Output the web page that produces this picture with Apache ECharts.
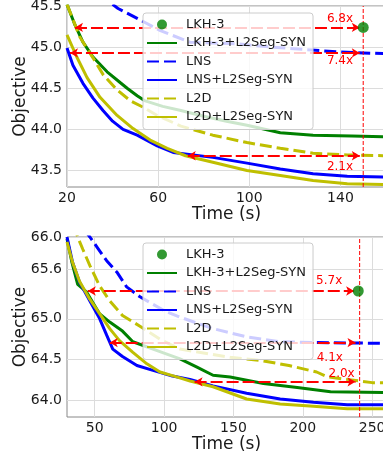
<!DOCTYPE html>
<html>
<head>
<meta charset="utf-8">
<script src="https://cdn.jsdelivr.net/npm/echarts@6/dist/echarts.min.js"></script>
<style>
  html, body { margin: 0; padding: 0; background: #fff; }
  #chart { width: 383px; height: 452px; }
</style>
</head>
<body>
<div id="chart"></div>
<script>
var names = ['LKH-3', 'LKH-3+L2Seg-SYN', 'LNS', 'LNS+L2Seg-SYN', 'L2D', 'L2D+L2Seg-SYN'];

// top panel: [time (s), objective]
var topLkh = [[150, 45.24]];
var topLkhSeg = [[20, 45.52], [23.5, 45.27], [27, 45.06], [31.4, 44.88], [37.6, 44.70], [43.3, 44.57], [46.4, 44.5],
    [50.8, 44.41], [54, 44.35], [62, 44.28], [70, 44.23], [80, 44.16], [90, 44.1], [99, 44.05], [113.6, 43.96],
    [128, 43.93], [145, 43.92], [160, 43.91]];
var topLns = [[40, 45.52], [42.4, 45.47], [50.8, 45.35], [61, 45.2], [74, 45.06], [95, 45.04], [110, 45.0],
    [125, 44.97], [140, 44.94], [150, 44.93], [160, 44.92]];
var topLnsSeg = [[20, 44.99], [22.6, 44.78], [27, 44.56], [31.4, 44.38], [35.8, 44.23], [40, 44.1], [44.6, 44.0],
    [50.8, 43.93], [59.6, 43.80], [66.6, 43.72], [84, 43.66], [99, 43.59], [113.6, 43.52], [128, 43.46],
    [143, 43.43], [160, 43.42]];
var topL2d = [[20, 45.52], [25.7, 45.12], [31.4, 44.87], [36, 44.66], [42, 44.48], [47.7, 44.35], [53.4, 44.27],
    [59.6, 44.17], [70, 44.04], [84, 43.93], [99, 43.84], [113.6, 43.77], [128, 43.71], [143, 43.69], [160, 43.68]];
var topL2dSeg = [[20, 45.15], [24.3, 44.88], [28.8, 44.63], [34.5, 44.39], [42, 44.17], [49, 44.01], [56.5, 43.87],
    [64, 43.77], [72, 43.68], [84, 43.6], [99, 43.5], [113.6, 43.44], [128, 43.38], [143, 43.34], [160, 43.33]];

// bottom panel
var botLkh = [[240, 65.34]];
var botLkhSeg = [[30, 65.98], [33.4, 65.7], [37.7, 65.42], [44, 65.33], [48.6, 65.2], [53.6, 65.06], [60.8, 64.96],
    [70, 64.85], [77.5, 64.72], [97, 64.6], [111.5, 64.51], [123.7, 64.41], [135.3, 64.31], [147.6, 64.29],
    [171.6, 64.21], [196, 64.16], [220, 64.11], [260, 64.1]];
var botLns = [[43, 66.08], [46.5, 66.0], [51.5, 65.88], [58.6, 65.71], [66, 65.57], [73, 65.39], [82.6, 65.27],
    [100, 65.1], [111.5, 65.02], [135.3, 64.88], [159.5, 64.78], [183.7, 64.72], [207.7, 64.71], [260, 64.7]];
var botLnsSeg = [[30, 66.0], [34, 65.69], [39, 65.45], [46.4, 65.22], [53.6, 65.0], [58.6, 64.8], [63, 64.63],
    [70, 64.54], [80.4, 64.43], [92, 64.37], [106, 64.3], [118.7, 64.26], [135.3, 64.18], [159.5, 64.09],
    [183.7, 64.02], [207.7, 63.98], [232, 63.95], [260, 63.95]];
var botL2d = [[35, 66.15], [37.7, 66.0], [41.4, 65.85], [46.5, 65.65], [53.6, 65.4], [60.8, 65.22], [70, 65.04],
    [82.6, 64.91], [97, 64.75], [111.5, 64.63], [147.6, 64.53], [170, 64.49], [190, 64.43], [210, 64.35],
    [218, 64.29], [231.6, 64.26], [250, 64.22], [260, 64.22]];
var botL2dSeg = [[30, 65.94], [34, 65.69], [39, 65.46], [46.4, 65.24], [53.6, 65.06], [60.8, 64.88], [68, 64.73],
    [77.5, 64.59], [87.6, 64.45], [97, 64.35], [109, 64.29], [118.7, 64.24], [135.3, 64.17], [159.5, 64.02],
    [183.7, 63.96], [207.7, 63.93], [232, 63.9], [260, 63.9]];

// speed-up arrows: [from, to, objective]
var topArrows = [[23.5, 148.5, 45.24], [21.3, 148.5, 44.93], [73, 148.5, 43.68]];
var topSpeedups = ['6.8x', '7.4x', '2.1x'];
var topSpeedupAt = [[139.8, 45.34], [139.8, 44.83], [139.8, 43.54]];
var topVLine = 150;
var botArrows = [[45, 237, 65.34], [60.8, 238, 64.71], [122, 238, 64.23]];
var botSpeedups = ['5.7x', '4.1x', '2.0x'];
var botSpeedupAt = [[219, 65.46], [219.5, 64.52], [228, 64.33]];
var botVLine = 241;

// axis ranges and ticks
var topXRange = [20, 160], topYRange = [43.3, 45.5];
var botXRange = [30, 260], botYRange = [63.8, 66.0];
var topXTicks = [20, 60, 100, 140];
var topYTicks = [43.5, 44.0, 44.5, 45.0, 45.5];
var botXTicks = [50, 100, 150, 200, 250];
var botYTicks = [64.0, 64.5, 65.0, 65.6, 66.0];

var FONT = 'DejaVu Sans';
var colors = ['green', 'green', 'blue', 'blue', '#bfbf00', '#bfbf00'];
var dashed = [false, false, true, false, true, false];

function xAxisFor(gi, range, ticks) {
    return {
        type: 'value', gridIndex: gi, min: range[0], max: range[1],
        name: 'Time (s)', nameLocation: 'middle', nameGap: 17,
        nameTextStyle: {fontFamily: FONT, fontSize: 17, color: '#1a1a1a'},
        axisLine: {show: false},
        axisTick: {show: false, customValues: ticks},
        axisLabel: {customValues: ticks, fontFamily: FONT, fontSize: 14, color: '#1a1a1a', margin: 4},
        splitLine: {show: true, lineStyle: {color: '#dcdcdc', width: 1}}
    };
}

function yAxisFor(gi, range, ticks) {
    return {
        type: 'value', gridIndex: gi, min: range[0], max: range[1],
        name: 'Objective', nameLocation: 'middle', nameGap: 38, nameMoveOverlap: false,
        nameTextStyle: {fontFamily: FONT, fontSize: 17, color: '#1a1a1a'},
        axisLine: {show: false},
        axisTick: {show: false, customValues: ticks},
        axisLabel: {
            customValues: ticks, fontFamily: FONT, fontSize: 14, color: '#1a1a1a', margin: 5,
            formatter: function (v) { return v.toFixed(1); }
        },
        splitLine: {show: true, lineStyle: {color: '#dcdcdc', width: 1}}
    };
}

function panelSeries(gi, lkh, lines, arrows, speedups, speedupAt, vline, yRange) {
    var out = [];
    for (var i = 0; i < lines.length; i++) {
        out.push({
            name: names[i + 1], type: 'line', xAxisIndex: gi, yAxisIndex: gi,
            data: lines[i], symbol: 'none', clip: true, z: 2 + i * 0.1,
            lineStyle: {color: colors[i + 1], width: 3, type: dashed[i + 1] ? [12, 5] : 'solid'},
            itemStyle: {color: colors[i + 1]}
        });
    }
    // vertical time-budget line
    out.push({
        type: 'line', xAxisIndex: gi, yAxisIndex: gi, silent: true,
        data: [[vline, yRange[0]], [vline, yRange[1]]], symbol: 'none', z: 3,
        lineStyle: {color: '#ff0000', width: 1, type: [4, 2]}
    });
    out.push({
        name: names[0], type: 'scatter', xAxisIndex: gi, yAxisIndex: gi,
        data: lkh, symbolSize: 11, itemStyle: {color: 'green'}, z: 5,
        markLine: {
            silent: true, animation: false,
            symbol: ['arrow', 'arrow'], symbolSize: [7, 8],
            label: {show: false},
            lineStyle: {color: 'red', type: [12, 4], width: 2},
            data: arrows.map(function (a) {
                return [{coord: [a[0], a[2]]}, {coord: [a[1], a[2]]}];
            })
        },
        markPoint: {
            silent: true, animation: false,
            symbol: 'circle', symbolSize: 1, itemStyle: {color: 'rgba(0,0,0,0)'},
            label: {
                show: true, position: 'inside', color: 'red', fontFamily: FONT, fontSize: 12,
                formatter: function (p) { return p.name; }
            },
            data: speedups.map(function (s, i) { return {name: s, coord: speedupAt[i]}; })
        }
    });
    return out;
}

function legendFor(top) {
    return {
        data: names.map(function (n, i) {
            if (i === 0) return {name: n};
            return {name: n, itemStyle: {color: 'rgba(0,0,0,0)', borderWidth: 0}};
        }),
        orient: 'vertical', left: 143, top: top,
        itemWidth: 30, itemHeight: 10, itemGap: 5.5,
        padding: [5, 7, 6, 3],
        backgroundColor: 'rgba(255,255,255,0.8)', borderColor: '#cccccc', borderWidth: 1, borderRadius: 3,
        textStyle: {fontFamily: FONT, fontSize: 13, color: '#1a1a1a', padding: [0, 0, 0, 4]},
        selectedMode: false, z: 10
    };
}

var chart = echarts.init(document.getElementById('chart'));
var option = {
    animation: false,
    grid: [
        {left: 67, top: 6, width: 319, height: 181, outerBoundsMode: 'none',
            show: true, borderColor: '#888', borderWidth: 1, backgroundColor: '#fff'},
        {left: 67, top: 237, width: 319, height: 180, outerBoundsMode: 'none',
            show: true, borderColor: '#888', borderWidth: 1, backgroundColor: '#fff'}
    ],
    xAxis: [xAxisFor(0, topXRange, topXTicks), xAxisFor(1, botXRange, botXTicks)],
    yAxis: [yAxisFor(0, topYRange, topYTicks), yAxisFor(1, botYRange, botYTicks)],
    legend: [legendFor(13), legendFor(243)],
    series: panelSeries(0, topLkh, [topLkhSeg, topLns, topLnsSeg, topL2d, topL2dSeg], topArrows, topSpeedups, topSpeedupAt, topVLine, topYRange)
        .concat(panelSeries(1, botLkh, [botLkhSeg, botLns, botLnsSeg, botL2d, botL2dSeg], botArrows, botSpeedups, botSpeedupAt, botVLine, botYRange))
};
chart.setOption(option);
</script>
</body>
</html>
